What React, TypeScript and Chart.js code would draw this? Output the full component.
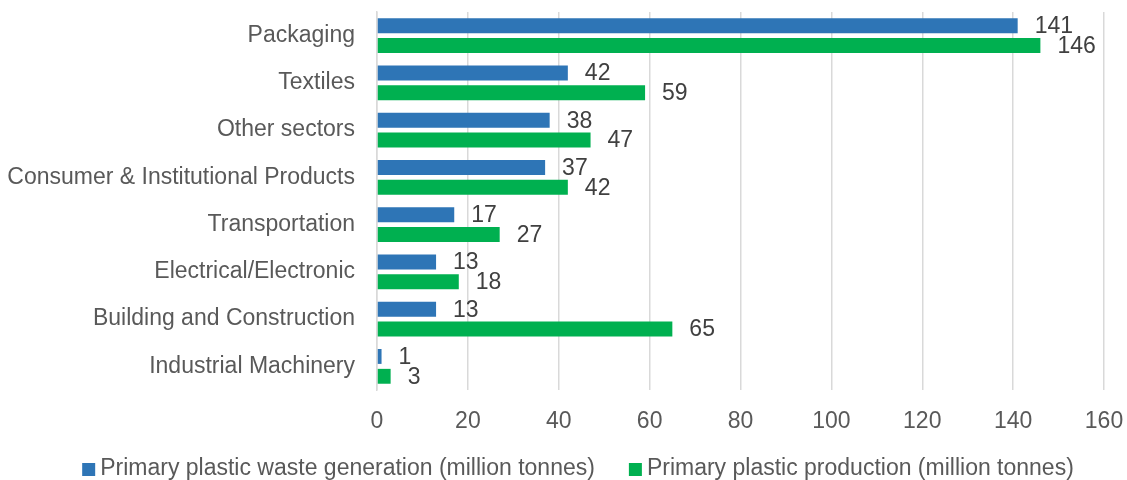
import React, { useEffect, useRef } from "react";
import { Chart, registerables } from "chart.js";

Chart.register(...registerables);

const categories = [
  "Packaging",
  "Textiles",
  "Other sectors",
  "Consumer & Institutional Products",
  "Transportation",
  "Electrical/Electronic",
  "Building and Construction",
  "Industrial Machinery",
];
const wasteValues = [141, 42, 38, 37, 17, 13, 13, 1];
const productionValues = [146, 59, 47, 42, 27, 18, 65, 3];
const wasteLabel = "Primary plastic waste generation (million tonnes)";
const productionLabel = "Primary plastic production (million tonnes)";

const FONT = "'Liberation Sans', Arial, sans-serif";
const FS = 23;

const valueLabels = {
  id: "valueLabels",
  afterDatasetsDraw(chart: any) {
    const ctx = chart.ctx;
    ctx.save();
    ctx.font = `${FS}px ${FONT}`;
    ctx.fillStyle = "#404040";
    ctx.textAlign = "left";
    ctx.textBaseline = "middle";
    chart.data.datasets.forEach((ds: any, di: number) => {
      const meta = chart.getDatasetMeta(di);
      meta.data.forEach((el: any, i: number) => {
        ctx.fillText(String(ds.data[i]), el.x + 17, el.y + 1);
      });
    });
    ctx.restore();
  },
};

const bottomLegend = {
  id: "bottomLegend",
  afterDraw(chart: any) {
    const ctx = chart.ctx;
    ctx.save();
    ctx.font = `${FS}px ${FONT}`;
    ctx.textBaseline = "middle";
    ctx.textAlign = "left";
    const box = 13;
    const gap = 5;
    const itemGap = 34;
    const items = chart.data.datasets.map((ds: any) => ({
      text: ds.label,
      color: ds.backgroundColor,
      w: ctx.measureText(ds.label).width,
    }));
    const total =
      items.reduce((s: number, it: any) => s + box + gap + it.w, 0) + itemGap * (items.length - 1);
    let x = 578 - total / 2;
    const cy = 469;
    items.forEach((it: any) => {
      ctx.fillStyle = it.color;
      ctx.fillRect(x, cy - 6, box, box);
      x += box + gap;
      ctx.fillStyle = "#595959";
      ctx.fillText(it.text, x, cy);
      x += it.w + itemGap;
    });
    ctx.restore();
  },
};

export default function App() {
  const ref = useRef<HTMLCanvasElement | null>(null);
  useEffect(() => {
    if (!ref.current) return;
    const chart = new Chart(ref.current, {
      type: "bar",
      data: {
        labels: categories,
        datasets: [
          {
            label: wasteLabel,
            data: wasteValues,
            backgroundColor: "#2E75B6",
            barPercentage: 0.75,
            categoryPercentage: 0.84,
          },
          {
            label: productionLabel,
            data: productionValues,
            backgroundColor: "#00B050",
            barPercentage: 0.75,
            categoryPercentage: 0.84,
          },
        ],
      },
      options: {
        indexAxis: "y",
        animation: false,
        responsive: false,
        maintainAspectRatio: false,
        layout: { padding: { top: 12, right: 23, left: 0, bottom: 33 } },
        plugins: {
          legend: { display: false },
          tooltip: { enabled: false },
        },
        scales: {
          x: {
            min: 0,
            max: 160,
            ticks: {
              stepSize: 20,
              font: { family: FONT, size: FS },
              color: "#595959",
              padding: 18,
              maxRotation: 0,
            },
            grid: { color: "#D9D9D9", lineWidth: 1.5, drawTicks: false },
            border: { display: false },
            afterFit(scale: any) {
              scale.paddingLeft = 0;
              scale.paddingRight = 0;
              scale.height = 57;
            },
          },
          y: {
            ticks: {
              font: { family: FONT, size: FS },
              color: "#595959",
              padding: 22,
            },
            grid: { display: false, drawTicks: false },
            border: { display: true, color: "#D9D9D9", width: 1.5 },
            afterFit(scale: any) {
              scale.width = 377;
              scale.paddingTop = 0;
              scale.paddingBottom = 0;
            },
          },
        },
      },
      plugins: [valueLabels, bottomLegend],
    });
    return () => chart.destroy();
  }, []);
  return (
    <div style={{ position: "fixed", left: 0, top: 0, width: 1127, height: 480, background: "#fff" }}>
      <canvas ref={ref} width={1127} height={480} />
    </div>
  );
}
